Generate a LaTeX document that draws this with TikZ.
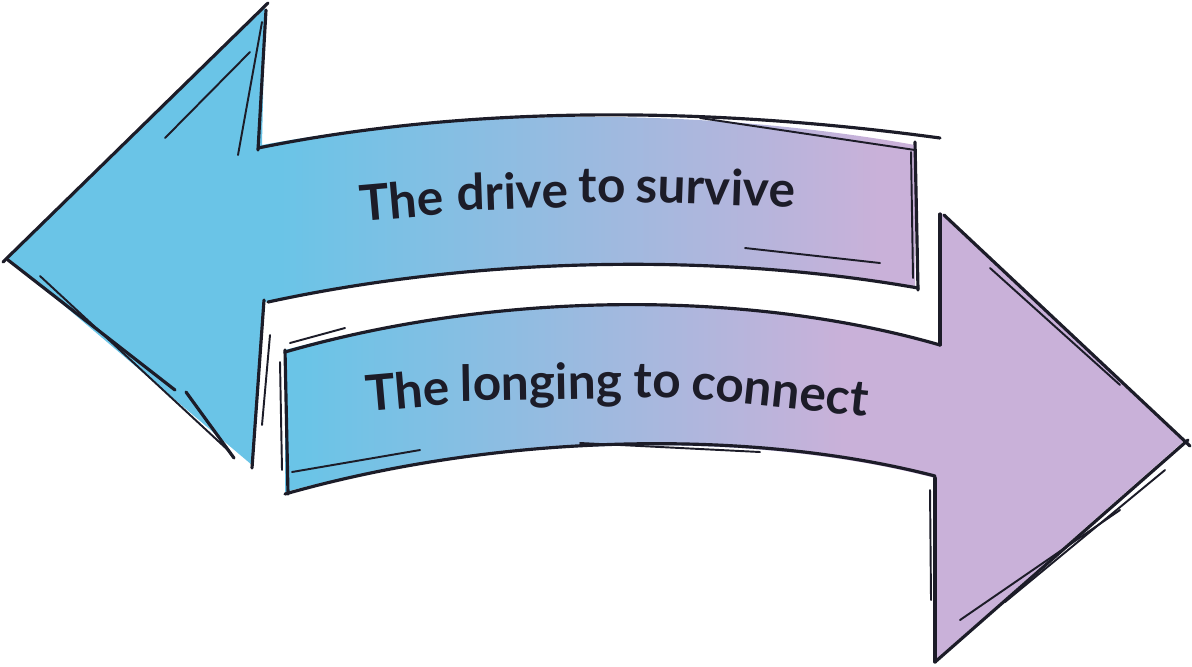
\documentclass[tikz,border=0pt]{standalone}
\usepackage{fontspec}
\setmainfont{Lato}
\usepackage{tikz}
\usetikzlibrary{calc}

\definecolor{skyarrow}{RGB}{106,196,231}
\definecolor{lilacarrow}{RGB}{201,177,217}
\definecolor{inkarrow}{RGB}{28,28,40}

\pgfdeclarehorizontalshading{driveshade}{100bp}{color(0bp)=(skyarrow); color(40bp)=(skyarrow); color(73bp)=(lilacarrow); color(100bp)=(lilacarrow)}
\pgfdeclarehorizontalshading{longshade}{100bp}{color(0bp)=(skyarrow); color(26bp)=(skyarrow); color(56bp)=(lilacarrow); color(100bp)=(lilacarrow)}

\tikzset{
  sketch/.style={draw=inkarrow,line width=0.9pt,line cap=round},
  faint/.style={draw=inkarrow,line width=0.55pt,line cap=round},
  banner/.style={font=\bfseries\fontsize{14.1}{14.1}\selectfont,text=inkarrow,inner sep=0pt,anchor=base west}
}

\begin{document}
\begin{tikzpicture}[x=0.01cm,y=-0.01cm]
\useasboundingbox (0,0) rectangle (1192,666);
% upper arrow, pointing left
\shade[shading=driveshade] (8,258) -- (265,8) -- (262,145)
  .. controls (480,105) and (720,110) .. (915,145) -- (915,287)
  .. controls (720,255) and (480,258) .. (265,302) -- (252,465) -- cycle;
% lower arrow, pointing right
\shade[shading=longshade] (285,350) .. controls (500,292) and (750,292) .. (940,345)
  -- (940,212) -- (1185,440) -- (935,660) -- (935,478)
  .. controls (750,430) and (500,435) .. (285,492) -- cycle;

% rough outline, upper arrow
\draw[sketch] (3,262) -- (268,3);
\draw[faint] (165,138) -- (250,52);
\draw[sketch] (266,10) -- (258,150);
\draw[faint] (262,22) -- (238,155);
\draw[sketch] (8,260) -- (175,390);
\draw[sketch] (186,392) -- (234,458);
\draw[faint] (40,276) -- (230,452);
\draw[sketch] (264,300) -- (252,468);
\draw[faint] (270,335) -- (262,425);
\draw[sketch] (258,148) .. controls (480,103) and (720,108) .. (940,138);
\draw[faint] (700,118) -- (915,150);
\draw[sketch] (915,142) -- (918,290);
\draw[faint] (911,152) -- (913,278);
\draw[sketch] (268,302) .. controls (480,256) and (720,253) .. (918,288);
\draw[faint] (745,248) -- (880,263);
% rough outline, lower arrow
\draw[sketch] (285,350) -- (288,494);
\draw[faint] (280,362) -- (282,470);
\draw[sketch] (285,352) .. controls (500,290) and (750,290) .. (940,345);
\draw[faint] (290,343) -- (345,328);
\draw[sketch] (940,214) -- (940,345);
\draw[sketch] (944,215) -- (1190,446);
\draw[faint] (990,268) -- (1120,385);
\draw[sketch] (1188,440) -- (935,662);
\draw[faint] (960,620) -- (1120,510);
\draw[faint] (1005,602) -- (1165,470);
\draw[sketch] (935,478) -- (935,662);
\draw[faint] (930,490) -- (931,600);
\draw[sketch] (935,476) .. controls (750,428) and (500,433) .. (285,494);
\draw[faint] (292,472) -- (420,450);
\draw[faint] (580,443) -- (760,452);

% texts
\node[banner,rotate=5]  (drivethe) at (361,222) {The};
\node[banner,rotate=2]  (driveverb) at (457,211) {drive};
\node[banner]           (driveto) at (578,202) {to};
\node[banner,rotate=-2] (drivesurvive) at (635,202) {survive};

\node[banner,rotate=5]  (longthe) at (367,412) {The};
\node[banner,rotate=1]  (longverb) at (460,401) {longing};
\node[banner,rotate=-1] (longto) at (633,397) {to};
\node[banner,rotate=-6] (longconnect) at (690,398) {connect};
\end{tikzpicture}
\end{document}
